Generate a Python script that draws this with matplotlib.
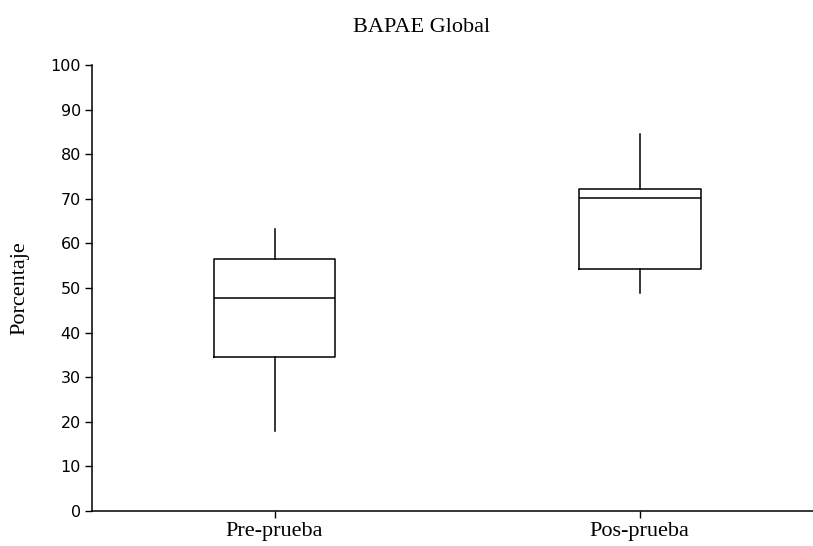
import matplotlib
matplotlib.use("Agg")
import matplotlib.pyplot as plt

# five-number summaries per group (percent)
groups = ["Pre-prueba", "Pos-prueba"]
whisker_low = [17.9, 48.8]
q1 = [34.5, 54.3]
median = [47.7, 70.1]
q3 = [56.6, 72.2]
whisker_high = [63.2, 84.5]

y_ticks = [0, 10, 20, 30, 40, 50, 60, 70, 80, 90, 100]

serif = "Liberation Serif"

fig = plt.figure(figsize=(8.13, 5.46), dpi=100)
ax = fig.add_axes([92 / 813, 35 / 546, 1 - 92 / 813, (511 - 65) / 546])

stats = []
for i, name in enumerate(groups):
    stats.append({
        "label": name,
        "whislo": whisker_low[i],
        "q1": q1[i],
        "med": median[i],
        "q3": q3[i],
        "whishi": whisker_high[i],
    })

line = {"color": "black", "linewidth": 1.1}
ax.bxp(stats, positions=[1, 2], widths=0.334, showcaps=False, showfliers=False,
       boxprops=line, whiskerprops=line, medianprops=line)

ax.set_xlim(0.5, 2.475)
ax.set_ylim(0, 100)
ax.set_yticks(y_ticks)
ax.tick_params(axis="y", labelsize=11.5, length=5, width=1, direction="out", pad=3)
ax.tick_params(axis="x", length=5, width=1, direction="out", pad=3)
ax.set_xticks([1, 2])
ax.set_xticklabels(groups, fontfamily=serif, fontsize=16)

for side in ["top", "right"]:
    ax.spines[side].set_visible(False)
for side in ["left", "bottom"]:
    ax.spines[side].set_linewidth(1.1)

ax.set_ylabel("Porcentaje", fontfamily=serif, fontsize=16, va="center")
ax.yaxis.set_label_coords(-0.1, 0.5)
fig.text(422 / 813, 1 - 27 / 546, "BAPAE Global", fontfamily=serif, fontsize=16,
         ha="center", va="center")

fig.savefig("out.png", dpi=100)
